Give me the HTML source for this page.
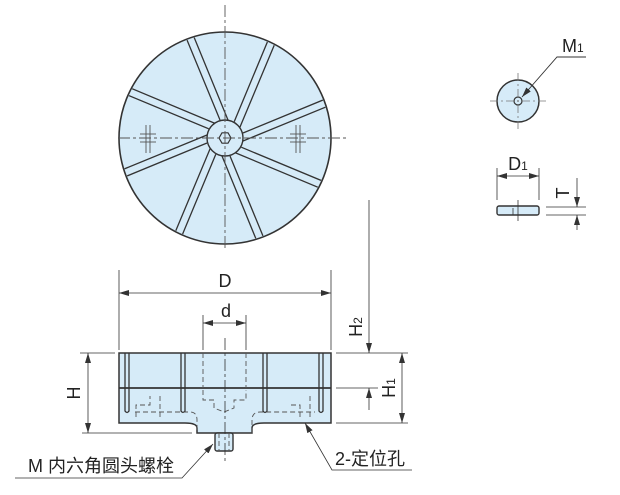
<!DOCTYPE html>
<html><head><meta charset="utf-8"><style>
html,body{margin:0;padding:0;background:#fff;}
svg{display:block;}
text{font-family:"Liberation Sans","Noto Sans CJK SC",sans-serif;fill:#222;}
</style></head><body>
<svg width="620" height="495" viewBox="0 0 620 495" xmlns="http://www.w3.org/2000/svg">
<defs>
<marker id="a" viewBox="0 0 10 6" refX="10" refY="3" markerWidth="10" markerHeight="6" orient="auto-start-reverse" markerUnits="userSpaceOnUse"><path d="M0,0L10,3L0,6z" fill="#333"/></marker>
<clipPath id="c"><circle cx="225" cy="138" r="105"/></clipPath>
</defs>
<g stroke="#333" fill="none">
<!-- top view -->
<circle cx="225" cy="138" r="106" fill="#d6ebf8" stroke-width="1.6"/>
<g stroke-width="1.3" clip-path="url(#c)">
<g id="sp"><line x1="243" y1="133" x2="340" y2="93"/><line x1="243" y1="141" x2="343" y2="100"/></g>
<use href="#sp" transform="rotate(45 225 138)"/>
<use href="#sp" transform="rotate(90 225 138)"/>
<use href="#sp" transform="rotate(135 225 138)"/>
<use href="#sp" transform="rotate(180 225 138)"/>
<use href="#sp" transform="rotate(225 225 138)"/>
<use href="#sp" transform="rotate(270 225 138)"/>
<use href="#sp" transform="rotate(315 225 138)"/>
</g>
<circle cx="225" cy="138" r="18" fill="#d6ebf8" stroke-width="1.4"/>
<polygon points="231,138 228,143.2 222,143.2 219,138 222,132.8 228,132.8" stroke-width="1.2"/>
<g stroke-width="0.9" stroke="#555" stroke-dasharray="12,3,3,3">
<line x1="225" y1="5" x2="225" y2="250"/>
<line x1="118" y1="138" x2="348" y2="138"/>
</g>
<g stroke-width="0.9" stroke="#555">
<line x1="146" y1="125" x2="146" y2="153"/><line x1="150" y1="125" x2="150" y2="153"/>
<line x1="140" y1="134" x2="156" y2="134"/><line x1="140" y1="142" x2="156" y2="142"/>
<line x1="296" y1="125" x2="296" y2="153"/><line x1="300" y1="125" x2="300" y2="153"/>
<line x1="290" y1="134" x2="306" y2="134"/><line x1="290" y1="142" x2="306" y2="142"/>
</g>
<!-- small part -->
<circle cx="518" cy="101" r="21" fill="#d6ebf8" stroke-width="1.5"/>
<circle cx="518" cy="101" r="4" stroke-width="1.2"/>
<g stroke="#777" stroke-width="0.8"><line x1="490" y1="101" x2="548" y2="101" stroke-dasharray="8,3,2,3"/><line x1="518" y1="73" x2="518" y2="130" stroke-dasharray="8,3,2,3"/></g>
<polyline points="586,57 557,57 522,97" stroke-width="0.9" marker-end="url(#a)"/>
<rect x="497" y="206" width="42" height="9" rx="2" fill="#d6ebf8" stroke-width="1.4"/>
<line x1="518" y1="200" x2="518" y2="221" stroke-width="0.8"/>
<line x1="513" y1="208" x2="513" y2="215" stroke-width="0.8"/>
<g stroke-width="0.8">
<line x1="497" y1="168" x2="497" y2="200"/><line x1="539" y1="168" x2="539" y2="200"/>
<line x1="497" y1="176" x2="539" y2="176" marker-start="url(#a)" marker-end="url(#a)"/>
<line x1="546" y1="207" x2="586" y2="207"/><line x1="546" y1="215" x2="586" y2="215"/>
<line x1="577" y1="178" x2="577" y2="207" marker-end="url(#a)"/>
<line x1="577" y1="230" x2="577" y2="215" marker-end="url(#a)"/>
</g>
<!-- side view -->
<path d="M119,353H331V423H264Q252,423 252,428V433H197V428Q197,423 185,423H119Z" fill="#d6ebf8" stroke-width="1.5"/>
<rect x="215" y="433" width="18" height="18" rx="2" fill="#d6ebf8" stroke-width="1.4"/>
<line x1="119" y1="388" x2="331" y2="388" stroke-width="1.8"/>
<g stroke-width="1.3">
<path d="M125,353V411Q127,414 129,411V353"/>
<path d="M181,353V411Q183,414 185,411V353"/>
<path d="M263,353V411Q265,414 267,411V353"/>
<path d="M319,353V411Q321,414 323,411V353"/>
</g>
<g stroke="#555" stroke-width="0.9" stroke-dasharray="5,3">
<line x1="203" y1="353" x2="203" y2="388"/><line x1="246" y1="353" x2="246" y2="388"/>
<path d="M136,417V405H150V396M160,396V417"/>
<path d="M300,417V405H290M310,396V417"/>
<path d="M135,412H190Q197,412 197,420V433M252,433V420Q252,412 260,412H315"/>
<path d="M203,390V400H214V408L224,412L234,408V400H246V390"/>
<line x1="219" y1="433" x2="219" y2="451"/><line x1="229" y1="433" x2="229" y2="451"/>
</g>
<line x1="225" y1="338" x2="225" y2="462" stroke-width="0.8" stroke-dasharray="12,3,3,3"/>
<!-- dims -->
<g stroke-width="0.8">
<line x1="119" y1="270" x2="119" y2="350"/><line x1="331" y1="270" x2="331" y2="350"/>
<line x1="119" y1="293" x2="331" y2="293" marker-start="url(#a)" marker-end="url(#a)"/>
<line x1="203" y1="315" x2="203" y2="350"/><line x1="246" y1="315" x2="246" y2="350"/>
<line x1="203" y1="323" x2="246" y2="323" marker-start="url(#a)" marker-end="url(#a)"/>
<line x1="80" y1="353" x2="115" y2="353"/><line x1="82" y1="433" x2="192" y2="433"/>
<line x1="88" y1="353" x2="88" y2="433" marker-start="url(#a)" marker-end="url(#a)"/>
<line x1="336" y1="353" x2="408" y2="353"/><line x1="336" y1="388" x2="378" y2="388"/><line x1="336" y1="423" x2="408" y2="423"/>
<line x1="402" y1="353" x2="402" y2="423" marker-start="url(#a)" marker-end="url(#a)"/>
<line x1="369" y1="200" x2="369" y2="353" marker-end="url(#a)"/>
<line x1="369" y1="410" x2="369" y2="388" marker-end="url(#a)"/>
<polyline points="15,478 182,478 213,444" marker-end="url(#a)"/>
<polyline points="412,470 332,470 305,423" marker-end="url(#a)"/>
</g>
</g>
<text x="225" y="287" font-size="18" text-anchor="middle">D</text>
<text x="226" y="317" font-size="18" text-anchor="middle">d</text>
<text x="518" y="170" font-size="18" text-anchor="middle">D<tspan font-size="12">1</tspan></text>
<text x="562" y="52" font-size="18">M<tspan font-size="12">1</tspan></text>
<text font-size="18" transform="translate(569,193) rotate(-90)" text-anchor="middle">T</text>
<text font-size="18" transform="translate(80,393) rotate(-90)" text-anchor="middle">H</text>
<text font-size="18" transform="translate(395,388) rotate(-90)" text-anchor="middle">H<tspan font-size="12">1</tspan></text>
<text font-size="18" transform="translate(362,327) rotate(-90)" text-anchor="middle">H<tspan font-size="12">2</tspan></text>
<text x="28" y="472" font-size="18">M 内六角圆头螺栓</text>
<text x="335" y="465" font-size="18">2-定位孔</text>
</svg>
</body></html>
